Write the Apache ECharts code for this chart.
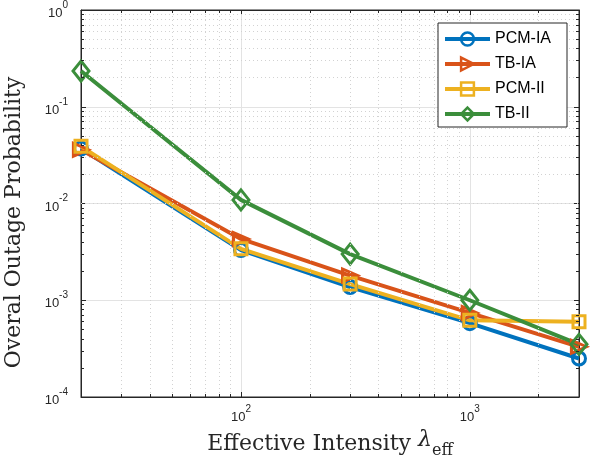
<!DOCTYPE html>
<html><head><meta charset="utf-8">
<script src="https://cdn.jsdelivr.net/npm/echarts@6/dist/echarts.min.js"></script>
<style>html,body{margin:0;padding:0;background:#fff}#c{width:603px;height:461px}</style>
</head><body><div id="c"></div>
<script>
const xValues = [20, 100, 300, 1000, 3000];
const pcmIA  = [0.037, 0.0033, 0.00137, 0.00058, 0.00025];
const tbIA   = [0.036, 0.0043, 0.0018, 0.00074, 0.00033];
const pcmII  = [0.039, 0.0034, 0.00147, 0.00062, 0.0006];
const tbII   = [0.234, 0.0109, 0.0030, 0.0010, 0.00035];
const seriesNames = ['PCM-IA', 'TB-IA', 'PCM-II', 'TB-II'];
const xMin = 20, xMax = 3000, yMin = 1e-4, yMax = 1;

const colors = ['#0072BD', '#D95319', '#EDB120', '#3B8E3B'];
const symbols = ['circle', 'triangle', 'rect', 'diamond'];
const symbolSizes = [13, [13, 15], 12, [16, 20]];
const rotations = [0, -90, 0, 0];
const allData = [pcmIA, tbIA, pcmII, tbII];

// minor grid positions (k * 10^e)
const xMinor = [];
[1, 2, 3].forEach(e => { for (let k = 2; k <= 9; k++) { const v = k * Math.pow(10, e); if (v > xMin && v < xMax) xMinor.push(v); } });
const yMinor = [];
[-4, -3, -2, -1].forEach(e => { for (let k = 2; k <= 9; k++) yMinor.push(k * Math.pow(10, e)); });

function powLabel(v) {
  const e = Math.round(Math.log10(v));
  if (Math.abs(v - Math.pow(10, e)) / Math.pow(10, e) > 1e-6) return '';
  return '{b|10}{s|' + e + '}';
}
const labelRich = {
  b: { fontSize: 13, fontFamily: 'Liberation Sans', color: '#262626', lineHeight: 20, verticalAlign: 'bottom' },
  s: { fontSize: 10, fontFamily: 'Liberation Sans', color: '#262626', lineHeight: 20, verticalAlign: 'top' }
};
const axisColor = '#262626';

// minor tick segments (short, inside the box)
const fx = Math.pow(10, 3 / 229), fy = Math.pow(10, 3 / 96.75);
const minorTicks = [];
yMinor.forEach(v => {
  minorTicks.push([{ coord: [xMin, v] }, { coord: [xMin * fx, v] }]);
  minorTicks.push([{ coord: [xMax, v] }, { coord: [xMax / fx, v] }]);
});
xMinor.forEach(v => {
  minorTicks.push([{ coord: [v, yMin] }, { coord: [v, yMin * fy] }]);
  minorTicks.push([{ coord: [v, yMax] }, { coord: [v, yMax / fy] }]);
});

const series = seriesNames.map((n, i) => ({
  name: n, type: 'line', z: 3,
  data: xValues.map((x, j) => [x, allData[i][j]]),
  symbol: symbols[i], symbolSize: symbolSizes[i], symbolRotate: rotations[i],
  showAllSymbol: true,
  lineStyle: { color: colors[i], width: 4, type: 'solid' },
  itemStyle: { color: 'rgba(0,0,0,0)', borderColor: colors[i], borderWidth: 3 },
  emphasis: { disabled: true }
}));
series.unshift({
  name: 'minorGrid', type: 'line', data: [], z: 1, silent: true,
  markLine: {
    silent: true, symbol: 'none', label: { show: false }, animation: false,
    lineStyle: { color: '#d2d2d2', width: 1, type: [1, 3] },
    emphasis: { disabled: true },
    data: xMinor.map(v => ({ xAxis: v })).concat(yMinor.map(v => ({ yAxis: v })))
  }
}, {
  name: 'minorTicks', type: 'line', data: [], z: 2, silent: true,
  markLine: {
    silent: true, symbol: 'none', label: { show: false }, animation: false,
    lineStyle: { color: axisColor, width: 1, type: 'solid' },
    emphasis: { disabled: true },
    data: minorTicks
  }
});

const chart = echarts.init(document.getElementById('c'));
chart.setOption({
  animation: false,
  backgroundColor: '#fff',
  grid: { left: 81, right: 24, top: 10, bottom: 64, outerBoundsMode: 'none', containLabel: false,
          show: true, borderColor: axisColor, borderWidth: 1, backgroundColor: 'transparent' },
  legend: {
    data: seriesNames, orient: 'vertical', right: 36, top: 23, z: 30,
    backgroundColor: '#fff', borderColor: axisColor, borderWidth: 1,
    padding: [8, 16, 5, 5], itemWidth: 45, itemHeight: 16, itemGap: 9,
    lineStyle: { width: 4, type: 'solid' },
    itemStyle: { borderWidth: 2.5 },
    textStyle: { fontSize: 16, fontFamily: 'Liberation Sans', color: '#000' },
    selectedMode: false
  },
  xAxis: [{
    type: 'log', logBase: 10, min: xMin, max: xMax,
    name: 'Effective Intensity {i|λ}{sub|eff}', nameLocation: 'middle', nameGap: 30,
    nameTextStyle: {
      fontSize: 22, fontFamily: 'DejaVu Serif', color: '#262626',
      rich: {
        i: { fontSize: 22, fontFamily: 'DejaVu Serif', fontStyle: 'italic', color: '#262626', lineHeight: 30, verticalAlign: 'top' },
        sub: { fontSize: 16, fontFamily: 'DejaVu Serif', color: '#262626', lineHeight: 30, verticalAlign: 'bottom' }
      }
    },
    axisLine: { show: true, lineStyle: { color: axisColor } },
    axisTick: { inside: true, length: 5, lineStyle: { color: axisColor } },
    minorTick: { show: false },
    axisLabel: { formatter: powLabel, rich: labelRich, margin: 7, showMinLabel: false, showMaxLabel: false },
    splitLine: { show: true, lineStyle: { color: '#e3e3e3', width: 1 } }
  }, {
    type: 'log', logBase: 10, min: xMin, max: xMax, position: 'top',
    axisLine: { show: true, lineStyle: { color: axisColor } },
    axisTick: { inside: true, length: 5, lineStyle: { color: axisColor } },
    axisLabel: { show: false }, splitLine: { show: false }
  }],
  yAxis: [{
    type: 'log', logBase: 10, min: yMin, max: yMax,
    name: 'Overal Outage Probability', nameLocation: 'middle', nameGap: 56, nameRotate: 90,
    nameTextStyle: { fontSize: 22, fontFamily: 'DejaVu Serif', color: '#262626', padding: [0, 38, 0, 0] },
    axisLine: { show: true, lineStyle: { color: axisColor } },
    axisTick: { inside: true, length: 5, lineStyle: { color: axisColor } },
    axisLabel: { formatter: powLabel, rich: labelRich, margin: 13 },
    splitLine: { show: true, lineStyle: { color: '#e3e3e3', width: 1 } }
  }, {
    type: 'log', logBase: 10, min: yMin, max: yMax, position: 'right',
    axisLine: { show: true, lineStyle: { color: axisColor } },
    axisTick: { inside: true, length: 5, lineStyle: { color: axisColor } },
    axisLabel: { show: false }, splitLine: { show: false }
  }],
  series: series
});
</script></body></html>
